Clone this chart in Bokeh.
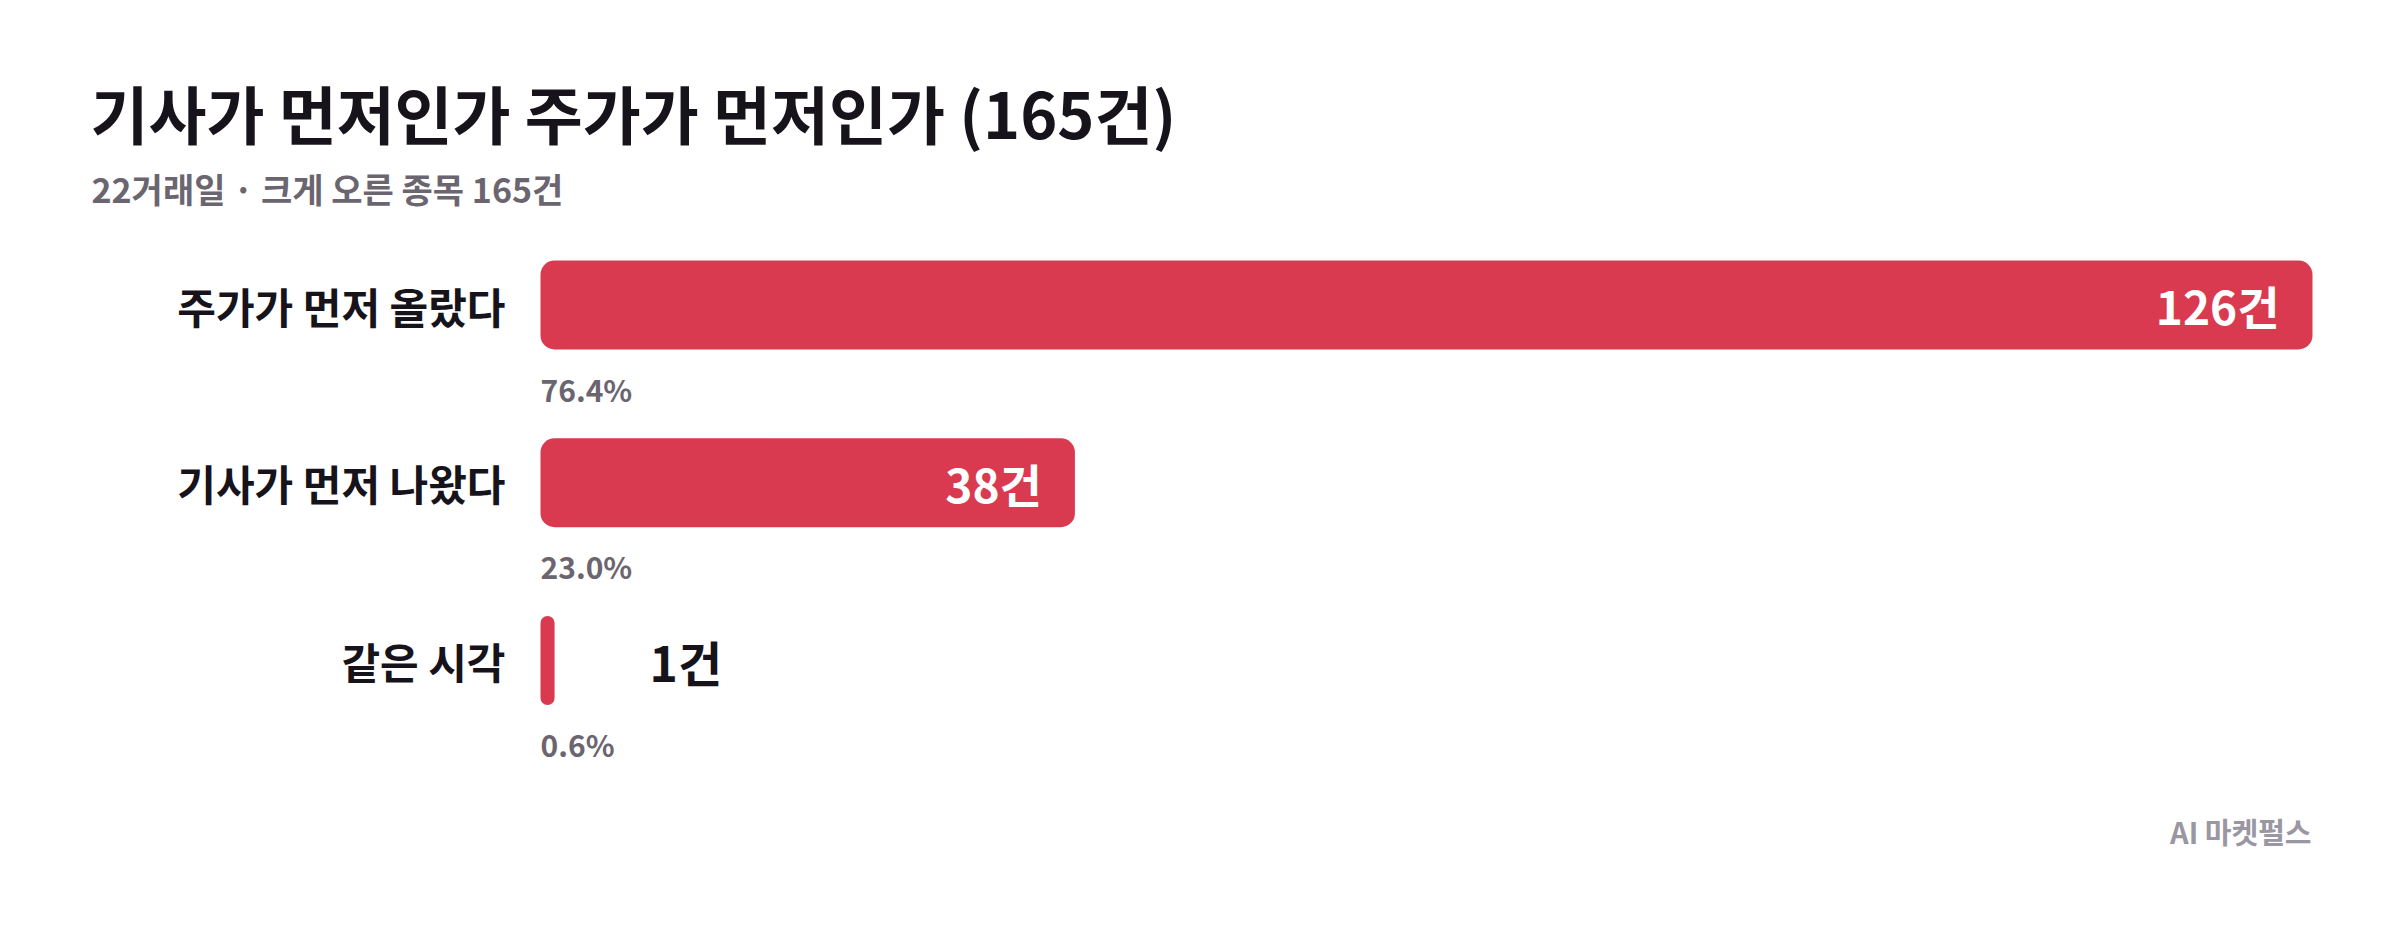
from bokeh.plotting import figure
from bokeh.models import Range1d, ColumnDataSource
from bokeh.core.properties import value
from bokeh.embed import file_html
from bokeh.resources import INLINE

# ---- data ----
categories = ["주가가 먼저 올랐다", "기사가 먼저 나왔다", "같은 시각"]
counts = [126, 38, 1]
title_text = "기사가 먼저인가 주가가 먼저인가 (165건)"
subtitle_text = "22거래일 · 크게 오른 종목 165건"
footer_text = "AI 마켓펄스"

total = sum(counts)
pct_labels = [f"{c / total * 100:.1f}%" for c in counts]
count_labels = [f"{c}건" for c in counts]
rows = list(range(len(categories)))

# ---- layout constants (figure pixels) ----
W, H = 2384, 914
FONT = value("Noto Sans CJK KR")
BAR_COLOR = "#D93A4F"
X0_PX = 540          # where the value 0 sits
XMAX_PX = 2312       # where the max value ends
ROW0_PX = 304.5      # centre of first row (from top)
ROW_STEP = 177.75    # px between rows

vmax = max(counts)
ppu = (XMAX_PX - X0_PX) / vmax
x_start = -X0_PX / ppu
x_end = (W - X0_PX) / ppu
y_top = -ROW0_PX / ROW_STEP
y_bottom = (H - ROW0_PX) / ROW_STEP


def px_x(px):
    return (px - X0_PX) / ppu


def px_y(px):
    return (px - ROW0_PX) / ROW_STEP


p = figure(width=W, height=H,
           x_range=Range1d(x_start, x_end),
           y_range=Range1d(y_bottom, y_top),
           output_backend="svg", toolbar_location=None,
           x_axis_location=None, y_axis_location=None,
           min_border=0, background_fill_color="white",
           border_fill_color="white")
p.grid.visible = False
p.outline_line_color = None

src = ColumnDataSource(dict(row=rows, cat=categories, cnt=counts,
                            pct=pct_labels, lab=count_labels,
                            pct_y=[r + 0.47 for r in rows]))

p.hbar(y="row", left=0, right="cnt", height=0.5, source=src,
       fill_color=BAR_COLOR, line_color=None, border_radius=14)

# category labels
p.text(x=0, y="row", text="cat", source=src, x_offset=-35,
       text_align="right", text_baseline="middle",
       text_font=FONT, text_font_style="bold", text_font_size="42px",
       text_color="#16131a")

# percentage labels
p.text(x=0, y="pct_y", text="pct", source=src,
       text_align="left", text_baseline="middle",
       text_font=FONT, text_font_style="bold", text_font_size="30px",
       text_color="#6b6570")

# value labels: inside for long bars, outside for short ones
inside = [i for i, c in enumerate(counts) if c / vmax > 0.1]
outside = [i for i, c in enumerate(counts) if c / vmax <= 0.1]
src_in = ColumnDataSource(dict(row=[rows[i] for i in inside],
                               cnt=[counts[i] for i in inside],
                               lab=[count_labels[i] for i in inside]))
src_out = ColumnDataSource(dict(row=[rows[i] for i in outside],
                                cnt=[counts[i] for i in outside],
                                lab=[count_labels[i] for i in outside]))
p.text(x="cnt", y="row", text="lab", source=src_in, x_offset=-33,
       text_align="right", text_baseline="middle",
       text_font=FONT, text_font_style="bold", text_font_size="46px",
       text_color="white")
p.text(x="cnt", y="row", text="lab", source=src_out, x_offset=95,
       text_align="left", text_baseline="middle",
       text_font=FONT, text_font_style="bold", text_font_size="48px",
       text_color="#16131a")

# title, subtitle, footer
p.text(x=[px_x(90)], y=[px_y(111)], text=[title_text],
       text_align="left", text_baseline="middle",
       text_font=FONT, text_font_style="bold", text_font_size="63px",
       text_color="#16131a")
p.text(x=[px_x(91)], y=[px_y(188)], text=[subtitle_text],
       text_align="left", text_baseline="middle",
       text_font=FONT, text_font_style="bold", text_font_size="34px",
       text_color="#6b6570")
p.text(x=[px_x(2311)], y=[px_y(830)], text=[footer_text],
       text_align="right", text_baseline="middle",
       text_font=FONT, text_font_style="bold", text_font_size="29px",
       text_color="#9a96a2")

open("out.html", "w").write(file_html(p, INLINE))
